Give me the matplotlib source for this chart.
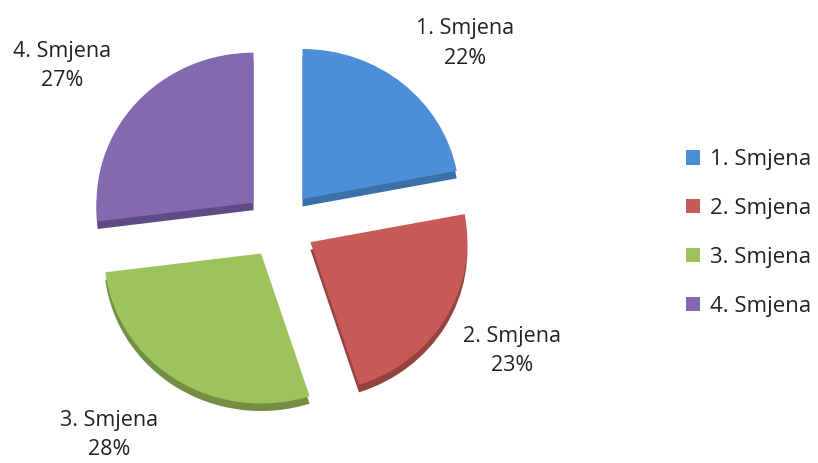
import matplotlib
matplotlib.use("Agg")
import matplotlib.pyplot as plt
from matplotlib.patches import Patch

categories = ["1. Smjena", "2. Smjena", "3. Smjena", "4. Smjena"]
values = [22, 23, 28, 27]
colors = ["#4d8fd6", "#c55a57", "#9dc35c", "#8468b0"]
dark = ["#3b6fa8", "#94423f", "#748f44", "#5f4b85"]

plt.rcParams['font.family'] = ['Open Sans', 'DejaVu Sans']

W, H = 818, 463
fig = plt.figure(figsize=(W / 100, H / 100), dpi=100)
RX, RY = 157.0, 150.0          # slight tilt of the 3D pie
cx, cy = 280.0, H - 225.0
ax = fig.add_axes([0, 0, 560 / W, 1])

explode = [0.225] * 4
FS = 15.5

# depth (fake 3D) layer
ax.pie(values, colors=dark, startangle=90, counterclock=False, explode=explode,
       center=(0, -0.05), radius=1.0, frame=True,
       wedgeprops=dict(linewidth=0))
ax.pie(values, colors=colors, startangle=90, counterclock=False, explode=explode,
       radius=1.0, frame=True, wedgeprops=dict(linewidth=0))

# label placement (layout, in pie-radius units relative to the pie centre)
label_pos = [(1.18, 1.21), (1.48, -0.84), (-1.09, -1.40), (-1.39, 1.06)]
for c, v, (lx, ly) in zip(categories, values, label_pos):
    ax.text(lx, ly, f"{c}\n{v}%", fontsize=FS, color="#222222", ha='center',
            va='center', multialignment='center', linespacing=1.55)

ax.set_aspect('auto')
ax.set_xlim(-cx / RX, (560 - cx) / RX)
ax.set_ylim(-cy / RY, (H - cy) / RY)
ax.axis('off')

handles = [Patch(facecolor=c, edgecolor='none') for c in colors]
fig.legend(handles, categories, loc='center left', bbox_to_anchor=(686 / W, 1 - 233 / H),
           frameon=False, fontsize=FS + 0.5, handlelength=0.62, handleheight=0.62,
           handletextpad=0.45, labelspacing=1.25, labelcolor="#222222",
           borderpad=0, borderaxespad=0)

fig.savefig("out.png", dpi=100, facecolor="white")
